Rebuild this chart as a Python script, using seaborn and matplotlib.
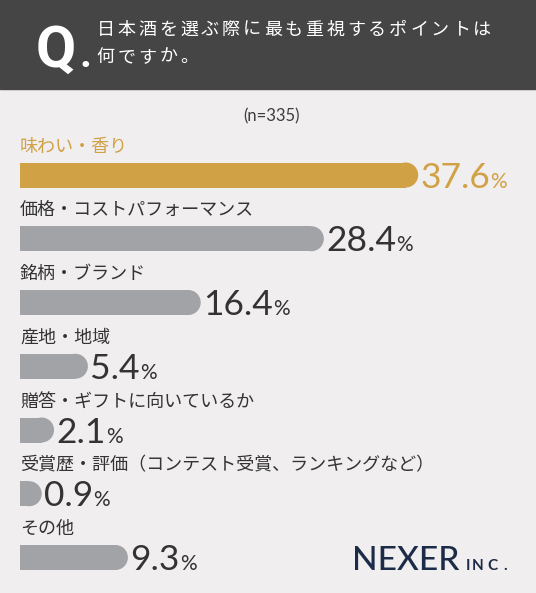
import matplotlib
matplotlib.use('Agg')
import matplotlib.pyplot as plt
import seaborn as sns
import pandas as pd
from matplotlib import font_manager
from matplotlib.patches import Rectangle

# data
categories = ['味わい・香り', '価格・コストパフォーマンス', '銘柄・ブランド', '産地・地域',
              '贈答・ギフトに向いているか', '受賞歴・評価（コンテスト受賞、ランキングなど）', 'その他']
values = [37.6, 28.4, 16.4, 5.4, 2.1, 0.9, 9.3]
title_lines = ['日本酒を選ぶ際に最も重視するポイントは', '何ですか。']
sample_note = '(n=335)'

W, H = 536, 593
GOLD = '#d1a146'
GRAY = '#a2a3a7'
DARK = '#333333'
BG = '#f0eeee'
HEADER = '#454545'
NAVY = '#1c2b48'

sns.set_style('white')
plt.rcParams['font.family'] = ['Noto Sans CJK JP', 'DejaVu Sans']
installed = {f.name for f in font_manager.fontManager.ttflist}
q_font = 'Liberation Sans Narrow' if 'Liberation Sans Narrow' in installed else 'Roboto'
num_font = ['Lato', 'DejaVu Sans']

df = pd.DataFrame({'category': categories, 'value': values})
colors = [GOLD] + [GRAY] * (len(categories) - 1)
palette = dict(zip(categories, colors))
text_colors = [GOLD] + [DARK] * (len(categories) - 1)

fig = plt.figure(figsize=(W / 100, H / 100), dpi=100, facecolor=BG)

# dark header band
fig.patches.append(Rectangle((0, 1 - 89 / H), 1, 89 / H, transform=fig.transFigure,
                             color=HEADER, zorder=0))
fig.text(36 / W, 1 - 67 / H, 'Q', color='white', fontsize=42, fontweight='bold',
         family=q_font, va='baseline', ha='left')
fig.text(79 / W, 1 - 67 / H, '.', color='white', fontsize=30, fontweight='bold',
         family=q_font, va='baseline', ha='left')


def spaced_text(x_px, y_px, s, size, step, color):
    # japanese title has extra tracking, so place it char by char
    for k, ch in enumerate(s):
        fig.text((x_px + k * step) / W, 1 - y_px / H, ch, ha='center', va='center',
                 fontsize=size, color=color)


spaced_text(105.5, 29.5, title_lines[0], 13, 20.9, 'white')
spaced_text(105.5, 57, title_lines[1], 13, 20.9, 'white')

fig.text(271 / W, 1 - 116 / H, sample_note, ha='center', va='center', fontsize=12,
         family=num_font, color='#3d3d3d')

# bar area: row centers at 175 + 63.75*i px
row = 63.75
top_px = 175 - row / 2
ax = fig.add_axes([20 / W, 1 - (top_px + 7 * row) / H, 516 / W, 7 * row / H])
ax.set_facecolor('none')
bar_h = 25 / row

sns.barplot(data=df, x='value', y='category', hue='category', palette=palette,
            orient='h', width=bar_h, saturation=1, legend=False, linewidth=0, ax=ax)
# rounded right ends
ax.scatter(values, range(len(values)), s=18 ** 2, c=colors, marker='o', linewidths=0,
           zorder=3, clip_on=True)

ax.set_xlim(0, 50.3)
ax.set_ylim(len(categories) - 0.5, -0.5)
ax.axis('off')

for i, (cat, v) in enumerate(zip(categories, values)):
    ax.text(0, i - 0.447, cat, ha='left', va='center', fontsize=13, color=text_colors[i],
            transform=ax.transData, clip_on=False)
    num = ax.annotate(f'{v}', xy=(v, i + bar_h / 2), xytext=(15, 0),
                      textcoords='offset pixels', ha='left', va='baseline',
                      fontsize=25.5, family=num_font, color=text_colors[i],
                      annotation_clip=False)
    ax.annotate('%', xy=(1, i + bar_h / 2), xycoords=(num, 'data'), xytext=(0, 0),
                textcoords='offset pixels', ha='left', va='baseline',
                fontsize=15, family=num_font, color=text_colors[i], annotation_clip=False)

# logo text
fig.text(352 / W, 1 - 570 / H, 'NEXER', ha='left', va='baseline', fontsize=24,
         family=num_font, fontweight='medium', color=NAVY)
for ch, x_px in zip('INC.', [466, 472, 487, 503]):
    fig.text(x_px / W, 1 - 570 / H, ch, ha='left', va='baseline', fontsize=11,
             family=num_font, fontweight='bold', color=NAVY)

fig.savefig('out.png', dpi=100, facecolor=BG)
